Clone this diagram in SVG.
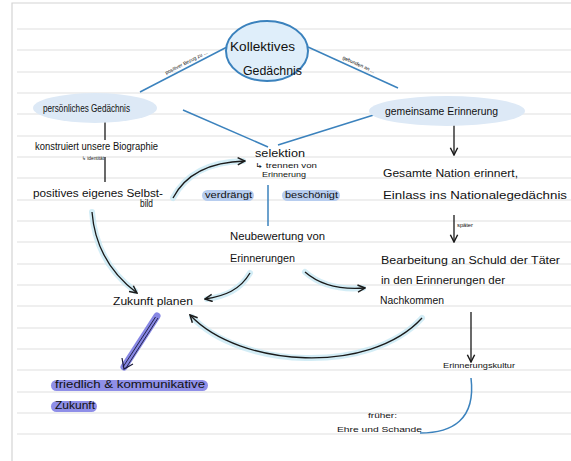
<svg xmlns="http://www.w3.org/2000/svg" width="571" height="461" viewBox="0 0 571 461">
<defs>
<style>
.rule{stroke:#dfdfdf;stroke-width:1}
.frame{fill:none;stroke:#d4d4d4;stroke-width:1.2}
.blue{fill:none;stroke:#3b82bd;stroke-width:1.5}
.ink{fill:none;stroke:#1a1a1a;stroke-width:1.3}
.glow{fill:none;stroke:#c8e8f4;stroke-width:6;stroke-linecap:round;opacity:.8}
.blob{fill:#dde9f6}
text{font-family:"Liberation Sans","DejaVu Sans",sans-serif;fill:#111}
.m{font-size:10px}
.s{font-size:7px}
.xs{font-size:5px}
.hl{fill:#b7cdef}
.pl{fill:#8f8fe8}
</style>
<marker id="ah" viewBox="0 0 10 10" refX="9" refY="5" markerWidth="7" markerHeight="7" orient="auto"><path d="M1,1 L9,5 L1,9" fill="none" stroke="#1a1a1a" stroke-width="1.6"/></marker>
</defs>
<rect width="571" height="461" fill="#fff"/>
<g id="paper">
<path class="frame" d="M12,461 V3 H571"/>
<g class="rule">
<line x1="17" y1="29" x2="571" y2="29"/><line x1="17" y1="50" x2="571" y2="50"/><line x1="17" y1="72" x2="571" y2="72"/><line x1="17" y1="93" x2="571" y2="93"/><line x1="17" y1="114" x2="571" y2="114"/><line x1="17" y1="136" x2="571" y2="136"/><line x1="17" y1="157" x2="571" y2="157"/><line x1="17" y1="178" x2="571" y2="178"/><line x1="17" y1="200" x2="571" y2="200"/><line x1="17" y1="221" x2="571" y2="221"/><line x1="17" y1="242" x2="571" y2="242"/><line x1="17" y1="264" x2="571" y2="264"/><line x1="17" y1="285" x2="571" y2="285"/><line x1="17" y1="306" x2="571" y2="306"/><line x1="17" y1="328" x2="571" y2="328"/><line x1="17" y1="349" x2="571" y2="349"/><line x1="17" y1="370" x2="571" y2="370"/><line x1="17" y1="392" x2="571" y2="392"/><line x1="17" y1="413" x2="571" y2="413"/><line x1="17" y1="434" x2="571" y2="434"/>
</g>
</g>

<g id="connectors">
<line class="blue" x1="227" y1="47" x2="140" y2="92"/>
<line class="blue" x1="308" y1="47" x2="398" y2="88"/>
<text class="xs" transform="translate(187,64) rotate(-27)" text-anchor="middle">positiver  Bezug zu ...</text>
<text class="xs" transform="translate(358,66) rotate(24.5)" text-anchor="middle">gebunden  an ...</text>
<line class="blue" x1="183" y1="110" x2="268" y2="147"/>
<line class="blue" x1="380" y1="113" x2="278" y2="145"/>
<line class="ink" x1="105" y1="118" x2="105" y2="140"/>
<line class="ink" x1="105" y1="157" x2="105" y2="182"/>
<path class="glow" d="M173,198 C185,175 208,162 243,161"/>
<path class="ink" d="M173,198 C185,175 208,162 245,161" marker-end="url(#ah)"/>
<line class="blue" x1="268" y1="185" x2="268" y2="226"/>
<path class="glow" d="M92,212 C95,250 113,275 135,291"/>
<path class="ink" d="M92,212 C95,250 113,275 137,293" marker-end="url(#ah)"/>
<path class="glow" d="M250,273 C240,290 226,296 207,299"/>
<path class="ink" d="M250,273 C240,290 225,296 205,299" marker-end="url(#ah)"/>
<path class="glow" d="M305,272 C320,285 340,290 363,288"/>
<path class="ink" d="M305,272 C320,285 340,290 365,288" marker-end="url(#ah)"/>
<line class="ink" x1="454" y1="125" x2="454" y2="155" marker-end="url(#ah)"/>
<line class="ink" x1="454" y1="215" x2="454" y2="242" marker-end="url(#ah)"/>
<text x="457" y="227" textLength="16" lengthAdjust="spacingAndGlyphs" font-size="6">später</text>
<path class="glow" d="M422,318 C370,375 240,368 192,317"/>
<path class="ink" d="M422,318 C370,375 240,368 190,315" marker-end="url(#ah)"/>
<line class="ink" x1="471" y1="312" x2="471" y2="362" marker-end="url(#ah)"/>
<path class="blue" d="M471,378 C476,420 452,433 420,433"/>
<line x1="157" y1="316" x2="124" y2="367" stroke="#8787e4" stroke-width="7" stroke-linecap="round"/>
<line x1="155.5" y1="317" x2="123" y2="367" stroke="#1a1a3a" stroke-width="0.9"/>
<line x1="158" y1="318" x2="126" y2="368" stroke="#1a1a3a" stroke-width="0.9"/>
<path d="M122,358 L124,369 L133,364" fill="none" stroke="#1a1a3a" stroke-width="1.2"/>
</g>

<g id="kollektiv">
<ellipse cx="267" cy="51" rx="41" ry="30" fill="#dfeefa" stroke="#3b82bd" stroke-width="2"/>
<text x="230" y="51" font-size="13" textLength="65" lengthAdjust="spacingAndGlyphs">Kollektives</text>
<text x="243" y="75" font-size="13" textLength="59" lengthAdjust="spacingAndGlyphs">Gedächnis</text>
</g>
<g id="persoenlich">
<ellipse class="blob" cx="95" cy="108" rx="62" ry="15"/>
<text class="m" x="43" y="112" textLength="87" lengthAdjust="spacingAndGlyphs">persönliches Gedächnis</text>
</g>
<g id="gemeinsam">
<ellipse class="blob" cx="447" cy="111" rx="78" ry="15"/>
<text class="m" x="385" y="115" textLength="113" lengthAdjust="spacingAndGlyphs">gemeinsame Erinnerung</text>
</g>
<g id="biographie">
<text class="m" x="35" y="150" textLength="123" lengthAdjust="spacingAndGlyphs">konstruiert unsere Biographie</text>
<text class="xs" x="82" y="160" textLength="22" lengthAdjust="spacingAndGlyphs">↳ identität</text>
</g>
<g id="selbstbild">
<text class="m" x="33" y="197" textLength="130" lengthAdjust="spacingAndGlyphs">positives eigenes Selbst-</text>
<text class="m" x="140" y="207" textLength="13" lengthAdjust="spacingAndGlyphs">bild</text>
</g>
<g id="selektion">
<text x="255" y="157" font-size="11" textLength="50" lengthAdjust="spacingAndGlyphs">selektion</text>
<text class="s" x="255" y="168" textLength="62" lengthAdjust="spacingAndGlyphs">↳ trennen von</text>
<text class="s" x="262" y="177" textLength="44" lengthAdjust="spacingAndGlyphs">Erinnerung</text>
</g>
<g id="verdraengt">
<rect class="hl" x="202" y="190" width="52" height="11" rx="5.5"/>
<text x="205" y="198" font-size="9" textLength="47" lengthAdjust="spacingAndGlyphs">verdrängt</text>
</g>
<g id="beschoenigt">
<rect class="hl" x="282" y="190" width="58" height="11" rx="5.5"/>
<text x="285" y="198" font-size="9" textLength="53" lengthAdjust="spacingAndGlyphs">beschönigt</text>
</g>
<g id="nation">
<text class="m" x="383" y="177" textLength="135" lengthAdjust="spacingAndGlyphs">Gesamte Nation erinnert,</text>
<text class="m" x="383" y="199" textLength="184" lengthAdjust="spacingAndGlyphs">Einlass ins Nationalegedächnis</text>
</g>
<g id="neubewertung">
<text class="m" x="230" y="240" textLength="95" lengthAdjust="spacingAndGlyphs">Neubewertung von</text>
<text class="m" x="230" y="262" textLength="65" lengthAdjust="spacingAndGlyphs">Erinnerungen</text>
</g>
<g id="bearbeitung">
<text class="m" x="381" y="264" textLength="179" lengthAdjust="spacingAndGlyphs">Bearbeitung an Schuld der Täter</text>
<text class="m" x="381" y="284" textLength="124" lengthAdjust="spacingAndGlyphs">in den Erinnerungen der</text>
<text class="m" x="380" y="304" textLength="64" lengthAdjust="spacingAndGlyphs">Nachkommen</text>
</g>
<g id="zukunft">
<text class="m" x="113" y="305" textLength="80" lengthAdjust="spacingAndGlyphs">Zukunft planen</text>
</g>
<g id="friedlich">
<rect class="pl" x="51" y="380" width="157" height="11" rx="5.5"/>
<rect class="pl" x="51" y="401" width="46" height="11" rx="5.5"/>
<text class="m" x="55" y="388" fill="#1a1a3a" textLength="150" lengthAdjust="spacingAndGlyphs">friedlich &amp; kommunikative</text>
<text class="m" x="55" y="409" fill="#1a1a3a" textLength="40" lengthAdjust="spacingAndGlyphs">Zukunft</text>
</g>
<g id="kultur">
<text class="s" x="443" y="368" textLength="72" lengthAdjust="spacingAndGlyphs">Erinnerungskultur</text>
</g>
<g id="frueher">
<text class="s" x="368" y="418" textLength="29" lengthAdjust="spacingAndGlyphs">früher:</text>
<text class="s" x="337" y="432" textLength="85" lengthAdjust="spacingAndGlyphs">Ehre und Schande</text>
</g>
</svg>
